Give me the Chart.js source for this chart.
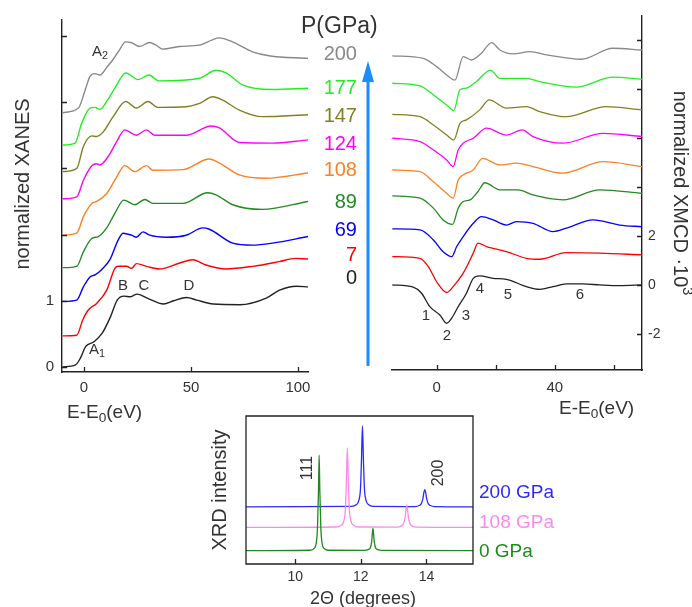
<!DOCTYPE html>
<html>
<head>
<meta charset="utf-8">
<script src="https://cdn.jsdelivr.net/npm/chart.js@4.4.1/dist/chart.umd.min.js"></script>
<style>
  body { margin: 0; background: #fff; }
  #fig { position: relative; width: 692px; height: 607px; overflow: hidden;
         font-family: "Liberation Sans", Arial, sans-serif; color: #333; }
  #fig canvas { position: absolute; }
  .t { position: absolute; white-space: nowrap; line-height: 1; }
  .c { transform: translate(-50%, -50%); }
  .m { transform: translateY(-50%); }
  .r { transform: translate(-100%, -50%); }
  .rl { transform: translate(-50%, -50%) rotate(-90deg); }
  .rr { transform: translate(-50%, -50%) rotate(90deg); }
  sub { font-size: 72%; vertical-align: -0.3em; line-height: 0; }
  sup { font-size: 72%; vertical-align: 0.6em; line-height: 0; }
</style>
</head>
<body>
<div id="fig">
  <canvas id="xanes" width="320" height="400" style="left:0;top:0"></canvas>
  <canvas id="xmcd" width="312" height="400" style="left:380px;top:0"></canvas>
  <canvas id="xrd" width="290" height="202" style="left:200px;top:405px"></canvas>

  <svg width="692" height="607" style="position:absolute;left:0;top:0">
    <line x1="368" y1="366" x2="368" y2="78" stroke="#1e8cff" stroke-width="3"/>
    <polygon points="368,61 362,82 374,82" fill="#1e8cff"/>
  </svg>

  <!-- left panel text -->
  <div class="t rl" style="left:22px;top:184px;font-size:20px">normalized XANES</div>
  <div class="t m" style="left:67px;top:411px;font-size:19px">E-E<sub>0</sub>(eV)</div>
  <div class="t m" style="left:92px;top:50px;font-size:15px">A<sub>2</sub></div>
  <div class="t m" style="left:89px;top:348px;font-size:15px">A<sub>1</sub></div>
  <div class="t c" style="left:123px;top:284px;font-size:15px">B</div>
  <div class="t c" style="left:144px;top:284px;font-size:15px">C</div>
  <div class="t c" style="left:189px;top:284px;font-size:15px">D</div>

  <!-- pressure column -->
  <div class="t m" style="left:301px;top:25px;font-size:23px">P(GPa)</div>
  <div id="plabels"></div>

  <!-- right panel text -->
  <div class="t rr" style="left:681px;top:193px;font-size:20px">normalized XMCD &middot;10<sup>3</sup></div>
  <div class="t m" style="left:559px;top:407px;font-size:19px">E-E<sub>0</sub>(eV)</div>
  <div class="t c" style="left:426px;top:314px;font-size:15px">1</div>
  <div class="t c" style="left:447px;top:334px;font-size:15px">2</div>
  <div class="t c" style="left:466px;top:314px;font-size:15px">3</div>
  <div class="t c" style="left:480px;top:287px;font-size:15px">4</div>
  <div class="t c" style="left:508px;top:293px;font-size:15px">5</div>
  <div class="t c" style="left:580px;top:293px;font-size:15px">6</div>

  <!-- XRD text -->
  <div class="t rl" style="left:219px;top:490px;font-size:20px">XRD intensity</div>
  <div class="t c" style="left:363px;top:598px;font-size:18px">2&Theta; (degrees)</div>
  <div class="t rl" style="left:307px;top:468px;font-size:16px">111</div>
  <div class="t rl" style="left:438px;top:473px;font-size:16px">200</div>
  <div id="xrdlabels"></div>
</div>

<script>
// pressures of the stacked spectra (GPa), bottom to top
const pressures = ['0', '7', '69', '89', '108', '124', '147', '177', '200'];
const colors = ['#222222', '#ff0000', '#0000ff', '#228b22', '#ff8020', '#ff00ff', '#808020', '#22ee22', '#888888'];
const labelY = [277, 254, 229, 201, 169, 143, 115, 87, 53];

// XANES: [E-E0 (eV), normalized absorption + offset]
const xanes0 = [[-10,0.0],[-4,0.03],[-1.6,0.14],[0.8,0.31],[4.6,0.38],[8.5,0.51],[12.4,0.76],[15.5,1.01],[18.6,1.07],[21.7,1.06],[24.8,1.10],[29.5,1.04],[37.2,0.95],[41.9,1.0],[48,1.05],[52.7,1.01],[60.4,0.95],[72.8,0.94],[85.2,1.04],[91.4,1.16],[99.2,1.22],[104.7,1.21]];
const xanes7 = [[-10,0.47],[-3.4,0.48],[-0.6,0.71],[2,0.86],[5.9,0.96],[10.6,1.16],[14.4,1.49],[16,1.52],[19.9,1.52],[22.2,1.49],[24.5,1.56],[29.2,1.52],[35.3,1.48],[44.7,1.57],[50.8,1.62],[57,1.54],[66.4,1.48],[78.8,1.52],[91.2,1.59],[98.9,1.64],[104.7,1.63]];
const xanes69 = [[-10,0.99],[-3.4,1.01],[-0.3,1.21],[2.8,1.36],[5.1,1.39],[8.2,1.47],[12.1,1.62],[16,1.92],[18.3,2.02],[22.2,1.99],[24.5,1.96],[27.6,2.04],[30.7,1.99],[38.5,1.96],[47.8,1.99],[55.5,2.10],[58.6,2.08],[69.5,1.87],[78.8,1.84],[88.1,1.87],[104.7,1.97]];
const xanes89 = [[-10,1.50],[-3.4,1.52],[-0.3,1.74],[3.6,1.94],[6.7,1.97],[10.6,2.10],[14.4,2.32],[18.6,2.52],[23.7,2.45],[28.4,2.53],[32.2,2.47],[46.2,2.47],[57.8,2.63],[61.7,2.60],[69.5,2.45],[83.4,2.38],[104.7,2.50]];
const xanes108 = [[-10,1.99],[-3.4,2.02],[-0.3,2.27],[3.6,2.47],[5.9,2.50],[10.6,2.62],[14.4,2.82],[19.1,3.04],[23.7,2.95],[29.2,3.04],[32.2,2.97],[46.2,2.98],[58.6,3.14],[63.3,3.08],[72.6,2.90],[85,2.85],[104.7,2.93]];
const xanes124 = [[-10,2.54],[-3.4,2.57],[-0.3,2.82],[3.6,3.04],[5.9,3.07],[7.4,3.05],[11.3,3.18],[15.2,3.40],[19.1,3.58],[24.5,3.50],[29.2,3.58],[33,3.50],[47.8,3.50],[59.4,3.64],[63.3,3.61],[72.6,3.39],[88.1,3.38],[104.7,3.43]];
const xanes147 = [[-10,2.95],[-3.4,3.00],[-0.3,3.33],[3.6,3.49],[5.9,3.48],[9,3.55],[13.6,3.78],[19.5,4.01],[24.5,3.91],[29.9,4.01],[34.5,3.92],[47.8,3.93],[54,3.98],[60.2,4.08],[64.8,4.03],[72.6,3.88],[83.4,3.78],[104.7,3.81]];
const xanes177 = [[-10,3.35],[-4.2,3.38],[-1.1,3.68],[2.8,3.91],[5.1,3.92],[7.4,3.89],[10.6,4.01],[14.4,4.21],[19.5,4.44],[25.3,4.34],[30.4,4.41],[35,4.32],[54,4.36],[61.7,4.48],[66.4,4.44],[74.1,4.26],[88.1,4.19],[104.7,4.21]];
const xanes200 = [[-10,3.84],[-2.6,3.91],[0.5,4.18],[2.8,4.39],[5.1,4.43],[7.5,4.41],[10.5,4.52],[13.5,4.64],[16.6,4.79],[19.4,4.91],[22,4.90],[26,4.84],[30.6,4.90],[33.7,4.86],[36.8,4.80],[44.6,4.84],[53.9,4.86],[60,4.94],[63.2,4.97],[69.4,4.91],[78.8,4.76],[86.5,4.70],[104.7,4.66]];

// XMCD: [E-E0 (eV), XMCD x 10^3 + offset]
const xmcd0 = [[-15,0],[-7.9,-0.09],[-5.1,-0.34],[-2.3,-0.89],[1.1,-1.23],[3.4,-1.57],[5.1,-1.36],[7.3,-0.89],[10.1,-0.34],[12.4,0.27],[14.6,0.37],[19.1,0.27],[23.6,0.23],[30.4,-0.07],[34.9,-0.18],[39.4,-0.07],[43.9,0.04],[49.5,0.04],[55.2,0],[62,-0.03],[69.5,0]];
const xmcd7 = [[-15,1.16],[-5.6,1.09],[-2.8,0.75],[0,0.13],[3.4,-0.31],[5.6,-0.07],[9,0.48],[12.4,1.30],[14,1.71],[16.9,1.57],[23.6,1.36],[30.4,1.09],[34.9,1.05],[43.9,1.32],[55.2,1.30],[69.5,1.23]];
const xmcd69 = [[-15,2.29],[-5.6,2.25],[-1.1,1.84],[2.2,1.36],[5.1,1.16],[6.8,1.57],[9,1.98],[12.4,2.52],[15.2,2.79],[19.1,2.66],[23.6,2.45],[27,2.59],[32.6,2.52],[39.4,2.18],[43.9,2.32],[52.9,2.66],[62,2.45],[69.5,2.38]];
const xmcd89 = [[-15,3.64],[-5.6,3.55],[-1.1,3.14],[2.2,2.66],[5.4,2.48],[7.3,3.14],[9,3.41],[11.3,3.48],[14,3.82],[16.3,4.18],[21.4,3.89],[27.6,3.89],[32.6,3.68],[42.8,3.48],[55.2,3.89],[69.5,3.75]];
const xmcd108 = [[-15,4.70],[-5.6,4.63],[-1.1,4.22],[3.4,3.75],[5.6,3.55],[7.3,4.29],[9,4.50],[12.4,4.70],[15.5,5.18],[21.4,4.91],[27,4.98],[32.6,4.84],[42.8,4.57],[56.3,5.04],[69.5,4.84]];
const xmcd124 = [[-15,6.00],[-5.6,5.86],[-1.1,5.52],[3.4,5.11],[5.6,4.84],[7.3,5.52],[9,5.80],[12.4,6.00],[16.9,6.41],[23.6,6.13],[29,6.34],[32.6,6.07],[42.8,5.80],[56.3,6.20],[69.5,6.07]];
const xmcd147 = [[-15,6.98],[-5.6,6.88],[-1.1,6.54],[3.4,6.13],[5.8,5.93],[7.9,6.61],[10.1,6.75],[14.6,7.16],[17.8,7.57],[23.6,7.23],[30.4,7.29],[34.9,7.09],[43.9,6.88],[57.4,7.29],[69.5,7.16]];
const xmcd177 = [[-15,8.25],[-5.6,8.14],[-1.1,7.77],[3.4,7.36],[5.8,7.13],[7.9,7.98],[10.1,8.05],[13.5,8.32],[18.2,8.79],[21.4,8.45],[30.4,8.45],[34.9,8.32],[47.3,8.09],[59.6,8.50],[69.5,8.41]];
const xmcd200 = [[-15,9.37],[-4.5,9.27],[0,8.93],[3.4,8.59],[6.2,8.38],[9,9.34],[11.8,9.20],[15.2,9.48],[18.6,9.91],[21.4,9.61],[25.8,9.45],[31.5,9.54],[37.2,9.41],[49,9.23],[59.6,9.68],[69.5,9.61]];

// XRD: [2theta (deg), intensity + offset]
const xrdLabels = ['0 GPa', '108 GPa', '200 GPa'];
const xrdColors = ['#1e8a1e', '#ff88ee', '#2a2aff'];
const xrd0 = [[8.5,0.9],[10.45,0.93],[10.58,1.05],[10.64,1.4],[10.68,2.5],[10.71,5.0],[10.73,7.35],[10.75,5.0],[10.78,2.5],[10.82,1.4],[10.88,1.05],[11.0,0.93],[12.1,0.92],[12.22,0.97],[12.29,1.1],[12.33,1.5],[12.35,2.0],[12.37,2.41],[12.39,2.0],[12.41,1.5],[12.45,1.1],[12.52,0.97],[12.64,0.92],[15.42,0.9]];
const xrd108 = [[8.5,2.47],[11.25,2.50],[11.40,2.62],[11.48,2.9],[11.53,3.7],[11.56,5.6],[11.59,7.84],[11.62,5.6],[11.65,3.7],[11.70,2.9],[11.78,2.62],[11.93,2.50],[13.10,2.49],[13.23,2.56],[13.30,2.72],[13.35,3.15],[13.37,3.55],[13.40,3.98],[13.43,3.55],[13.45,3.15],[13.50,2.72],[13.57,2.56],[13.70,2.49],[15.42,2.47]];
const xrd200 = [[8.5,3.86],[11.72,3.89],[11.86,4.0],[11.94,4.3],[11.99,5.1],[12.02,7.0],[12.05,9.33],[12.08,7.0],[12.11,5.1],[12.16,4.3],[12.24,4.0],[12.38,3.89],[13.65,3.88],[13.78,3.95],[13.85,4.1],[13.90,4.5],[13.92,4.8],[13.95,5.03],[13.98,4.8],[14.00,4.5],[14.05,4.1],[14.12,3.95],[14.25,3.88],[15.42,3.86]];

const xanesSeries = [xanes0, xanes7, xanes69, xanes89, xanes108, xanes124, xanes147, xanes177, xanes200];
const xmcdSeries = [xmcd0, xmcd7, xmcd69, xmcd89, xmcd108, xmcd124, xmcd147, xmcd177, xmcd200];
const xrdSeries = [xrd0, xrd108, xrd200];

const FONT = '"Liberation Sans", Arial, sans-serif';

// ticks drawn inside the frame, like the original figure
const inwardTicks = {
  id: 'inwardTicks',
  afterDatasetsDraw(chart, args, opts) {
    const { ctx, chartArea: a, scales } = chart;
    ctx.save();
    ctx.strokeStyle = '#222';
    ctx.lineWidth = 1.3;
    ctx.beginPath();
    if (opts.box) ctx.rect(a.left, a.top, a.right - a.left, a.bottom - a.top);
    scales.x.ticks.forEach(t => {
      const px = Math.round(scales.x.getPixelForValue(t.value)) + 0.5;
      ctx.moveTo(px, a.bottom);
      ctx.lineTo(px, a.bottom - opts.len);
    });
    if (opts.y) {
      const y = scales.y;
      const right = y.position === 'right';
      const edge = right ? a.right : a.left;
      y.ticks.forEach(t => {
        const py = Math.round(y.getPixelForValue(t.value)) + 0.5;
        ctx.moveTo(edge, py);
        ctx.lineTo(edge + (right ? -opts.len : opts.len), py);
      });
    }
    ctx.stroke();
    ctx.restore();
  }
};

const toXY = arr => arr.map(p => ({ x: p[0], y: p[1] }));

function lineSets(series, cols, width) {
  return series.map((s, i) => ({
    data: toXY(s),
    borderColor: cols[i],
    borderWidth: width,
    pointRadius: 0,
    fill: false,
    cubicInterpolationMode: 'monotone'
  }));
}

function axis(min, max, ticks, labels, extra) {
  return Object.assign({
    type: 'linear',
    min: min,
    max: max,
    afterBuildTicks: s => { s.ticks = ticks.map(v => ({ value: v })); },
    ticks: {
      color: '#333',
      font: { family: FONT, size: 15 },
      autoSkip: false,
      maxRotation: 0,
      callback: v => labels.includes(v) ? String(v) : ''
    },
    grid: { drawOnChartArea: false, drawTicks: false },
    border: { color: '#222', width: 1.4 }
  }, extra);
}

const baseOpts = {
  responsive: false,
  animation: false,
  events: [],
  plugins: { legend: { display: false }, tooltip: { enabled: false } }
};

// XANES panel
const xanesX = axis(-10.3, 104.7, [0, 50, 100], [0, 50, 100], { afterFit: s => { s.height = 28; } });
xanesX.ticks.padding = 7;
const xanesY = axis(-0.076, 5.24, [0, 1, 2, 3, 4, 5], [0, 1], { afterFit: s => { s.width = 62; } });
xanesY.ticks.padding = 8;
new Chart(document.getElementById('xanes'), {
  type: 'line',
  data: { datasets: lineSets(xanesSeries, colors, 1.4) },
  options: Object.assign({}, baseOpts, {
    layout: { padding: { left: 0, right: 12, top: 20, bottom: 0 } },
    scales: { x: xanesX, y: xanesY },
    plugins: Object.assign({}, baseOpts.plugins, { inwardTicks: { len: 5, y: true } })
  }),
  plugins: [inwardTicks]
});

// XMCD panel
const xmcdX = axis(-15.1, 69.5, [0, 20, 40, 60], [0, 40], { afterFit: s => { s.height = 30; } });
xmcdX.ticks.padding = 9;
const xmcdY = axis(-3.48, 11.0, [-2, 0, 2, 4, 6, 8, 10], [-2, 0, 2], { position: 'right', afterFit: s => { s.width = 50; } });
xmcdY.ticks.padding = 6;
xmcdY.ticks.font = { family: FONT, size: 14 };
new Chart(document.getElementById('xmcd'), {
  type: 'line',
  data: { datasets: lineSets(xmcdSeries, colors, 1.3) },
  options: Object.assign({}, baseOpts, {
    layout: { padding: { left: 12, right: 0, top: 16, bottom: 0 } },
    scales: { x: xmcdX, y: xmcdY },
    plugins: Object.assign({}, baseOpts.plugins, { inwardTicks: { len: 5, y: true } })
  }),
  plugins: [inwardTicks]
});

// XRD panel
const xrdX = axis(8.5, 15.42, [10, 12, 14], [10, 12, 14], { afterFit: s => { s.height = 43; } });
xrdX.ticks.padding = 5;
xrdX.ticks.font = { family: FONT, size: 14 };
xrdX.border = { display: false };
new Chart(document.getElementById('xrd'), {
  type: 'line',
  data: { datasets: lineSets(xrdSeries, xrdColors, 1.3) },
  options: Object.assign({}, baseOpts, {
    layout: { padding: { left: 46, right: 17, top: 11, bottom: 0 } },
    scales: { x: xrdX, y: { type: 'linear', min: 0, max: 10, display: false } },
    plugins: Object.assign({}, baseOpts.plugins, { inwardTicks: { len: 5, box: true } })
  }),
  plugins: [inwardTicks]
});

// pressure labels in the middle column
const plab = document.getElementById('plabels');
pressures.forEach((p, i) => {
  const d = document.createElement('div');
  d.className = 't r';
  d.style.cssText = 'left:357px;top:' + labelY[i] + 'px;font-size:20px;color:' + colors[i];
  d.textContent = p;
  plab.appendChild(d);
});

// XRD legend-like labels
const xlab = document.getElementById('xrdlabels');
const xrdLabelY = [550, 521, 491];
xrdLabels.forEach((s, i) => {
  const d = document.createElement('div');
  d.className = 't m';
  d.style.cssText = 'left:479px;top:' + xrdLabelY[i] + 'px;font-size:19px;color:' + xrdColors[i];
  d.textContent = s;
  xlab.appendChild(d);
});
</script>
</body>
</html>
